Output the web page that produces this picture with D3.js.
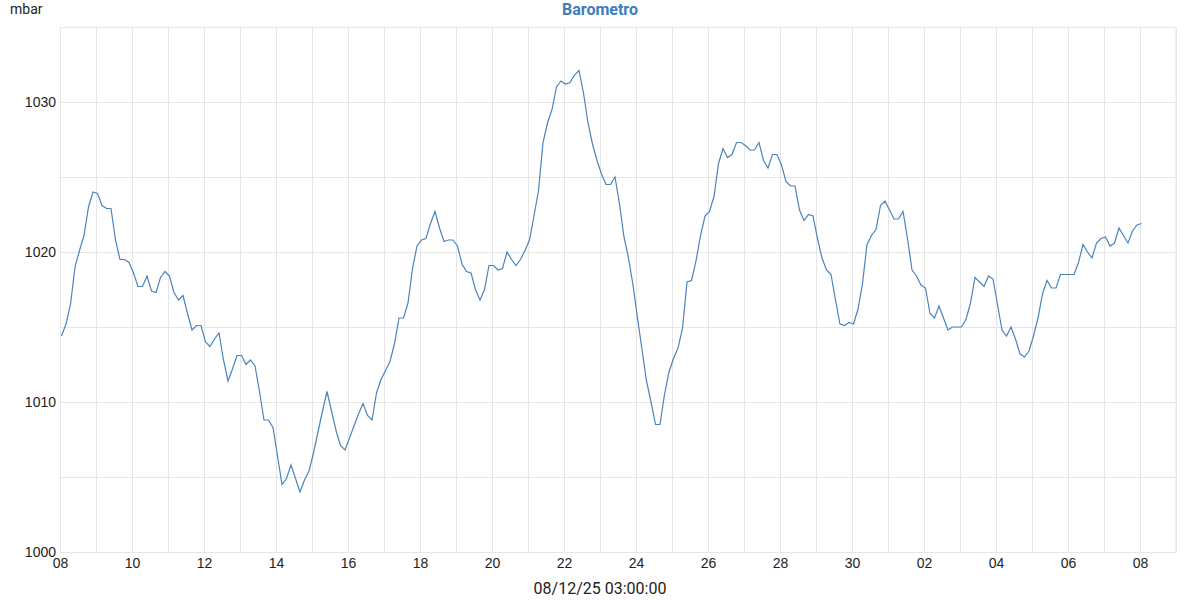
<!DOCTYPE html>
<html>
<head>
<meta charset="utf-8">
<script src="https://cdn.jsdelivr.net/npm/d3@7"></script>
<style>
  body { margin: 0; background: #fff; }
  svg { font-family: Roboto, "Noto Sans", sans-serif; }
  .grid line { stroke: #e6e6e6; stroke-width: 1; }
  .grid path { stroke: none; }
  .axis path, .axis line { stroke: none; }
  .axis text { font-size: 14px; fill: #222; }
</style>
</head>
<body>
<script>
// barometer readings every 3 hours, from 08/11 01:00 onwards
var startTime = new Date(2025, 10, 8, 1, 0, 0);
var stepHours = 3;
var pressure = [
  1014.4, 1015.2, 1016.5, 1019.0, 1020.1, 1021.1, 1023.0, 1024.0, // 08
  1023.9, 1023.1, 1022.9, 1022.9, 1020.8, 1019.5, 1019.5, 1019.3, // 09
  1018.6, 1017.7, 1017.7, 1018.4, 1017.4, 1017.3, 1018.3, 1018.7, // 10
  1018.4, 1017.3, 1016.8, 1017.1, 1015.9, 1014.8, 1015.1, 1015.1, // 11
  1014.0, 1013.7, 1014.2, 1014.6, 1012.8, 1011.4, 1012.2, 1013.1, // 12
  1013.1, 1012.5, 1012.8, 1012.4, 1010.7, 1008.8, 1008.8, 1008.3, // 13
  1006.4, 1004.5, 1004.9, 1005.8, 1004.9, 1004.0, 1004.8, 1005.4, // 14
  1006.6, 1008.0, 1009.4, 1010.7, 1009.4, 1008.1, 1007.1, 1006.8, // 15
  1007.6, 1008.4, 1009.2, 1009.9, 1009.1, 1008.8, 1010.6, 1011.5, // 16
  1012.1, 1012.7, 1013.9, 1015.6, 1015.6, 1016.6, 1018.9, 1020.4, // 17
  1020.8, 1020.9, 1021.9, 1022.7, 1021.6, 1020.7, 1020.8, 1020.8, // 18
  1020.4, 1019.2, 1018.7, 1018.6, 1017.5, 1016.8, 1017.5, 1019.1, // 19
  1019.1, 1018.8, 1018.9, 1020.0, 1019.5, 1019.1, 1019.5, 1020.1, // 20
  1020.8, 1022.4, 1024.1, 1027.3, 1028.6, 1029.5, 1031.0, 1031.4, // 21
  1031.2, 1031.3, 1031.8, 1032.1, 1030.6, 1028.6, 1027.2, 1026.1, // 22
  1025.2, 1024.5, 1024.5, 1025.0, 1023.2, 1021.0, 1019.6, 1017.8, // 23
  1015.6, 1013.5, 1011.4, 1010.0, 1008.5, 1008.5, 1010.5, 1012.0, // 24
  1012.9, 1013.6, 1014.9, 1018.0, 1018.1, 1019.4, 1021.1, 1022.4, // 25
  1022.7, 1023.7, 1025.9, 1026.9, 1026.3, 1026.5, 1027.3, 1027.3, // 26
  1027.1, 1026.8, 1026.8, 1027.3, 1026.1, 1025.6, 1026.5, 1026.5, // 27
  1025.8, 1024.7, 1024.4, 1024.4, 1022.8, 1022.1, 1022.5, 1022.4, // 28
  1020.9, 1019.6, 1018.8, 1018.5, 1016.8, 1015.2, 1015.1, 1015.3, // 29
  1015.2, 1016.2, 1017.9, 1020.5, 1021.1, 1021.5, 1023.1, 1023.4, // 30
  1022.8, 1022.2, 1022.2, 1022.7, 1020.9, 1018.8, 1018.4, 1017.8, // 01
  1017.6, 1015.9, 1015.6, 1016.4, 1015.6, 1014.8, 1015.0, 1015.0, // 02
  1015.0, 1015.5, 1016.6, 1018.3, 1018.0, 1017.7, 1018.4, 1018.2, // 03
  1016.5, 1014.8, 1014.4, 1015.0, 1014.2, 1013.2, 1013.0, 1013.4, // 04
  1014.4, 1015.6, 1017.2, 1018.1, 1017.6, 1017.6, 1018.5, 1018.5, // 05
  1018.5, 1018.5, 1019.3, 1020.5, 1020.0, 1019.6, 1020.6, 1020.9, // 06
  1021.0, 1020.4, 1020.6, 1021.6, 1021.1, 1020.6, 1021.4, 1021.8, // 07
  1021.9                                                          // 08
];
var yTicks = [1000, 1010, 1020, 1030];
var title = "Barometro";
var unit = "mbar";
var xTitle = "08/12/25 03:00:00";

var data = pressure.map(function (v, i) {
    return { time: d3.timeHour.offset(startTime, i * stepHours), val: v };
});

var margin = { top: 27, right: 24, bottom: 48, left: 60 },
    width = 1200 - margin.left - margin.right,
    height = 600 - margin.top - margin.bottom;

var svg = d3.select("body").append("svg")
    .attr("width", 1200)
    .attr("height", 600);

var g = svg.append("g")
    .attr("transform", "translate(" + margin.left + "," + margin.top + ")");

var x = d3.scaleTime()
    .domain([new Date(2025, 10, 8), new Date(2025, 11, 9)])
    .range([0, width]);
var y = d3.scaleLinear().domain([1000, 1035]).range([height, 0]);

// grid: one vertical line per day, horizontal every 5 mbar
g.append("g")
    .attr("class", "grid")
    .attr("transform", "translate(0," + height + ")")
    .call(d3.axisBottom(x).ticks(d3.timeDay.every(1)).tickSize(-height).tickFormat(""));
g.append("g")
    .attr("class", "grid")
    .call(d3.axisLeft(y).tickValues(d3.range(1000, 1036, 5)).tickSize(-width).tickFormat(""));
g.append("line")
    .attr("x1", width).attr("x2", width)
    .attr("y1", 0).attr("y2", height)
    .attr("stroke", "#e6e6e6");

var xAxis = g.append("g")
    .attr("class", "axis")
    .attr("transform", "translate(0," + height + ")")
    .call(d3.axisBottom(x)
        .tickValues(d3.timeDays(new Date(2025, 10, 8), new Date(2025, 11, 9)).filter(function (d, i) { return i % 2 == 0; }))
        .tickSize(0)
        .tickPadding(6)
        .tickFormat(d3.timeFormat("%d")));

var yAxis = g.append("g")
    .attr("class", "axis")
    .call(d3.axisLeft(y).tickValues(yTicks).tickSize(0).tickPadding(4).tickFormat(d3.format("d")));

var line = d3.line()
    .x(function (d) { return x(d.time); })
    .y(function (d) { return y(d.val); });

g.append("path")
    .datum(data)
    .attr("fill", "none")
    .attr("stroke", "#4a84bd")
    .attr("stroke-width", 1.2)
    .attr("d", line);

svg.append("text")
    .attr("x", 600).attr("y", 15)
    .attr("text-anchor", "middle")
    .attr("font-size", 16)
    .attr("font-weight", "bold")
    .attr("fill", "#3b7dbd")
    .text(title);

svg.append("text")
    .attr("x", 10).attr("y", 14)
    .attr("font-size", 14)
    .attr("fill", "#222")
    .text(unit);

svg.append("text")
    .attr("x", 600).attr("y", 594)
    .attr("text-anchor", "middle")
    .attr("font-size", 16)
    .attr("fill", "#222")
    .text(xTitle);
</script>
</body>
</html>
